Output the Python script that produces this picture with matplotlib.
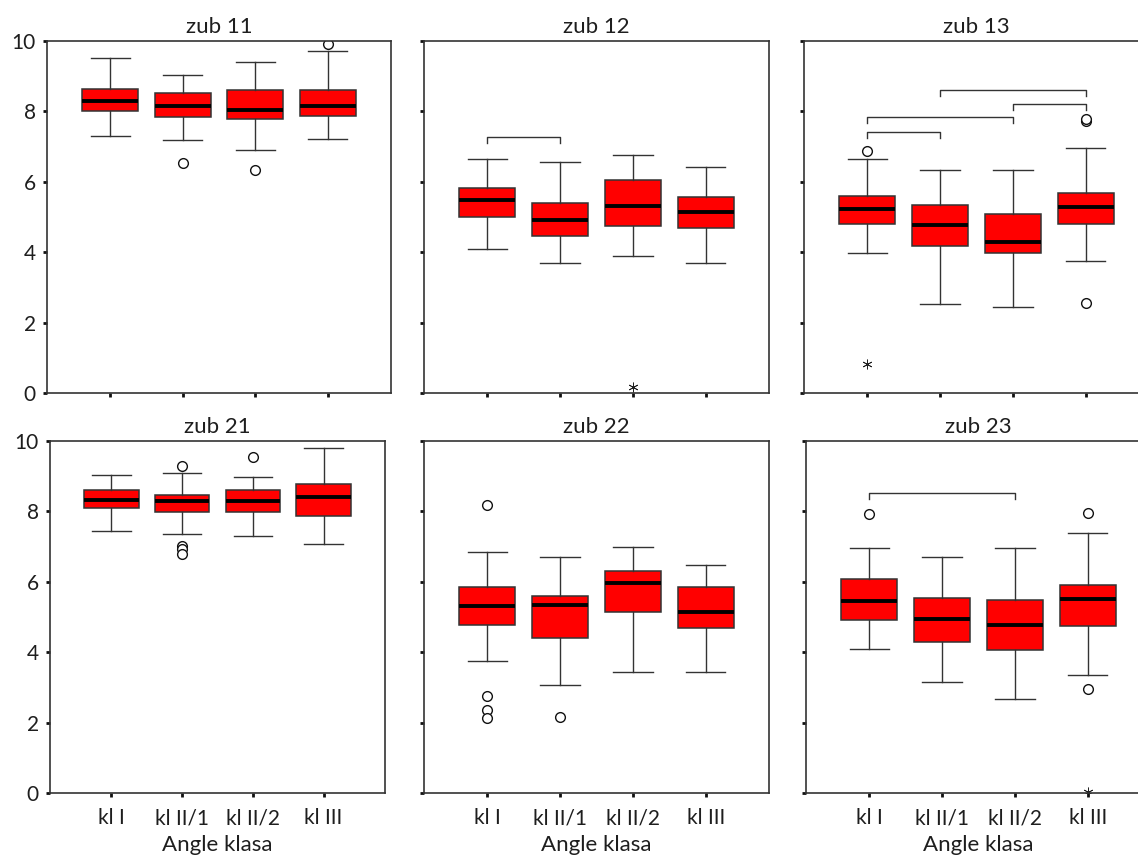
import matplotlib
matplotlib.use("Agg")
import matplotlib.pyplot as plt

plt.rcParams['font.family'] = ['Lato', 'DejaVu Sans']

titles = ["zub 11", "zub 12", "zub 13", "zub 21", "zub 22", "zub 23"]
groups = ["kl I", "kl II/1", "kl II/2", "kl III"]

# box statistics, one row per panel, one value per group
whislo = [[7.30, 7.19, 6.90, 7.23],
          [4.09, 3.69, 3.89, 3.69],
          [3.98, 2.52, 2.43, 3.76],
          [7.43, 7.36, 7.30, 7.06],
          [3.76, 3.06, 3.43, 3.43],
          [4.09, 3.16, 2.67, 3.36]]
q1 = [[8.02, 7.83, 7.79, 7.86],
      [5.01, 4.45, 4.74, 4.68],
      [4.81, 4.17, 3.98, 4.81],
      [8.09, 7.99, 7.99, 7.86],
      [4.78, 4.41, 5.15, 4.68],
      [4.91, 4.29, 4.06, 4.74]]
med = [[8.30, 8.16, 8.04, 8.16],
       [5.47, 4.91, 5.31, 5.14],
       [5.24, 4.78, 4.28, 5.28],
       [8.33, 8.29, 8.29, 8.40],
       [5.31, 5.34, 5.98, 5.14],
       [5.45, 4.94, 4.78, 5.51]]
q3 = [[8.64, 8.51, 8.61, 8.61],
      [5.81, 5.41, 6.06, 5.57],
      [5.60, 5.34, 5.08, 5.67],
      [8.61, 8.48, 8.61, 8.78],
      [5.86, 5.61, 6.30, 5.86],
      [6.09, 5.54, 5.47, 5.90]]
whishi = [[9.51, 9.04, 9.41, 9.73],
          [6.66, 6.57, 6.76, 6.43],
          [6.66, 6.33, 6.33, 6.96],
          [9.04, 9.08, 8.98, 9.80],
          [6.86, 6.70, 7.00, 6.47],
          [6.96, 6.70, 6.96, 7.39]]
outliers = [[[], [6.53], [6.33], [9.91]],
            [[], [], [], []],
            [[6.87], [], [], [7.74, 7.78, 2.56]],
            [[], [9.28, 7.03, 6.94, 6.79], [9.54], []],
            [[8.19, 2.76, 2.35, 2.13], [2.17], [], []],
            [[7.93], [], [], [7.96, 2.96]]]
extremes = [[[], [], [], []],
            [[], [], [0.17], []],
            [[0.81], [], [], []],
            [[], [], [], []],
            [[], [], [], []],
            [[], [], [], [0.02]]]
# significance brackets: (from group, to group, height)
brackets = [[],
            [(1, 2, 7.27)],
            [(1, 2, 7.42), (1, 3, 7.83), (3, 4, 8.22), (2, 4, 8.61)],
            [],
            [],
            [(1, 3, 8.51)]]

W, H = 1138, 857
# axes rectangles in pixels: left, top, right, bottom
rects = [(47, 41, 391, 393), (424, 41, 769, 393), (804, 41, 1149, 393),
         (50, 441, 385, 793), (424, 441, 769, 793), (806, 441, 1151, 793)]

fig = plt.figure(figsize=(W / 100, H / 100), dpi=100)
edge = '#333333'
txt = '#1e1e1e'

for k in range(6):
    l, t, r, b = rects[k]
    ax = fig.add_axes([l / W, 1 - b / H, (r - l) / W, (b - t) / H])
    stats = []
    for g in range(4):
        stats.append(dict(med=med[k][g], q1=q1[k][g], q3=q3[k][g],
                          whislo=whislo[k][g], whishi=whishi[k][g],
                          fliers=outliers[k][g]))
    ax.bxp(stats, positions=[1, 2, 3, 4], widths=0.77, capwidths=0.54,
           patch_artist=True,
           boxprops=dict(facecolor='#ff0000', edgecolor=edge, linewidth=1.1),
           medianprops=dict(color='black', linewidth=2.8),
           whiskerprops=dict(color=edge, linewidth=1.0),
           capprops=dict(color=edge, linewidth=1.0),
           flierprops=dict(marker='o', markerfacecolor='white', markeredgecolor='#111111',
                           markersize=7, markeredgewidth=1.0))
    for g in range(4):
        if extremes[k][g]:
            ax.plot([g + 1] * len(extremes[k][g]), extremes[k][g], linestyle='none',
                    marker=(6, 2, 0), markersize=7, color='#222222', markeredgewidth=0.6)
    for i, j, y in brackets[k]:
        ax.plot([i, i, j, j], [y - 0.17, y, y, y - 0.17], color=edge, linewidth=1.0)

    ax.set_xlim(0.13, 4.87)
    ax.set_ylim(0, 10)
    ax.set_yticks([0, 2, 4, 6, 8, 10])
    ax.set_xticks([1, 2, 3, 4])
    ax.set_title(titles[k], fontsize=16, pad=6, color=txt)
    ax.tick_params(direction='out', length=3, width=2, color='#111111',
                   labelsize=15, labelcolor=txt)
    ax.tick_params(axis='x', pad=8)
    ax.tick_params(axis='y', pad=5)
    if k >= 3:
        ax.set_xticklabels(groups)
        ax.set_xlabel("Angle klasa", fontsize=16, labelpad=5, color=txt)
    else:
        ax.set_xticklabels([])
    if k % 3 != 0:
        ax.set_yticklabels([])
    for s in ax.spines.values():
        s.set_color(edge)
        s.set_linewidth(1.2)

fig.savefig("out.png", dpi=100)
